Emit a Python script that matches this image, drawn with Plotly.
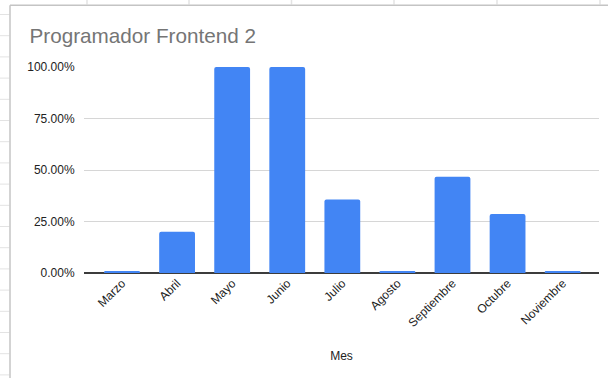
import plotly.graph_objects as go

meses = ["Marzo", "Abril", "Mayo", "Junio", "Julio", "Agosto", "Septiembre", "Octubre", "Noviembre"]
valores = [0.007, 0.20, 1.00, 1.00, 0.357, 0.007, 0.467, 0.286, 0.007]
y_ticks = [0, 0.25, 0.5, 0.75, 1.0]
y_tick_labels = ["0.00%", "25.00%", "50.00%", "75.00%", "100.00%"]
titulo = "Programador Frontend 2"
eje_x = "Mes"

W, H = 608, 378
ML, MR, MT, MB = 84, 9, 67, 105
PW, PH = W - ML - MR, H - MT - MB


def px_x(px):
    return (px - ML) / PW


def px_y(py):
    return (H - MB - py) / PH


fig = go.Figure(
    go.Bar(
        x=meses,
        y=valores,
        marker=dict(color="#4285F4", line=dict(width=0)),
        hoverinfo="x+y",
    )
)

shapes = []
grid_col = "#e3e3e3"
# spreadsheet gridlines behind the chart
for k in range(18):
    yy = 14.5 + 21.2 * k
    shapes.append(dict(type="line", xref="paper", yref="paper",
                       x0=px_x(0), x1=px_x(9.5), y0=px_y(yy), y1=px_y(yy),
                       line=dict(color=grid_col, width=1)))
for xx in [87, 189, 291.5, 394, 497, 600]:
    shapes.append(dict(type="line", xref="paper", yref="paper",
                       x0=px_x(xx), x1=px_x(xx), y0=px_y(0), y1=px_y(4.5),
                       line=dict(color=grid_col, width=1.5)))
# chart frame
shapes.append(dict(type="line", xref="paper", yref="paper",
                   x0=px_x(10), x1=px_x(610), y0=px_y(5.3), y1=px_y(5.3),
                   line=dict(color="#c4c4c4", width=1.5)))
shapes.append(dict(type="line", xref="paper", yref="paper",
                   x0=px_x(10), x1=px_x(10), y0=px_y(5.3), y1=px_y(380),
                   line=dict(color="#c4c4c4", width=1.5)))

fig.update_layout(
    width=W,
    height=H,
    margin=dict(l=ML, r=MR, t=MT, b=MB, pad=0),
    paper_bgcolor="white",
    plot_bgcolor="white",
    font=dict(family="Liberation Sans, Arial, sans-serif", size=12, color="#222222"),
    title=dict(text=titulo, x=29.5 / W, xanchor="left",
               y=1 - 36 / H, yanchor="middle",
               font=dict(size=20.7, color="#757575")),
    bargap=0.35,
    barcornerradius=2,
    showlegend=False,
    shapes=shapes,
    xaxis=dict(
        range=[-0.69, 8.66],
        tickangle=-45,
        tickfont=dict(size=12, color="#222222"),
        showgrid=False,
        showline=False,
        ticks="",
        title=dict(text=eje_x, font=dict(size=12, color="#222222"), standoff=22),
        fixedrange=True,
    ),
    yaxis=dict(
        range=[0, 1],
        tickvals=y_ticks,
        ticktext=y_tick_labels,
        showgrid=True,
        gridcolor="#d6d6d6",
        gridwidth=1,
        zeroline=True,
        zerolinecolor="#3c3c3c",
        zerolinewidth=1.5,
        showline=False,
        ticks="outside",
        ticklen=6,
        tickcolor="rgba(0,0,0,0)",
        tickfont=dict(size=12, color="#222222"),
        fixedrange=True,
    ),
)

fig.write_html(
    "out.html",
    config={"displayModeBar": False},
    post_script="document.body.style.margin='0';document.body.style.overflow='hidden';",
)
